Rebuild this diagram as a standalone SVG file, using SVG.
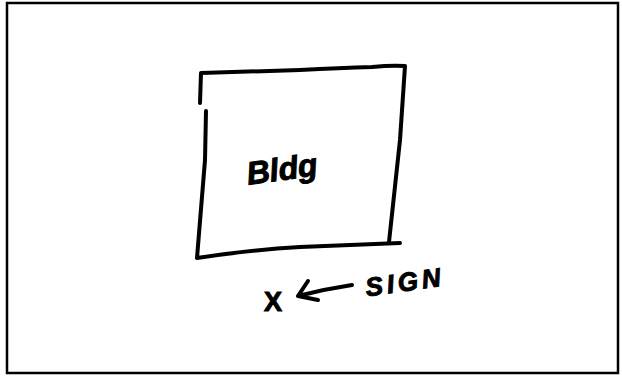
<svg xmlns="http://www.w3.org/2000/svg" width="622" height="377" viewBox="0 0 622 377">
<style>
.ink{fill:none;stroke:#000;stroke-width:4;stroke-linecap:round;stroke-linejoin:round}
.hand{font-family:"Liberation Sans","DejaVu Sans",sans-serif;fill:#000;stroke:#000;stroke-width:1}
</style>
<rect x="0" y="0" width="622" height="377" fill="#fff"/>
<rect x="7" y="3" width="611" height="370" fill="none" stroke="#000" stroke-width="2.5"/>
<g id="building">
<path class="ink" d="M200,103 L201,73 L300,70 Q340,68 372,67 Q392,65 405,66 L400,140 L389,242"/>
<path class="ink" d="M206,111 L205,160 L197,258 Q250,250 300,247 L400,243"/>
<text class="hand" x="282" y="180" font-size="32" font-style="italic" font-weight="bold" text-anchor="middle" transform="rotate(-8 282 170)">Bldg</text>
</g>
<g id="x-mark">
<text class="hand" x="273" y="311" font-size="27" font-weight="bold" text-anchor="middle">X</text>
</g>
<g id="sign">
<text class="hand" x="405" y="291" font-size="26" font-style="italic" font-weight="bold" text-anchor="middle" letter-spacing="4" transform="rotate(-8 405 282)">SIGN</text>
</g>
<g id="connectors">
<path class="ink" stroke-width="3.5" d="M352,285 Q325,289 298,296 M308,281 L298,296 L318,300"/>
</g>
</svg>
